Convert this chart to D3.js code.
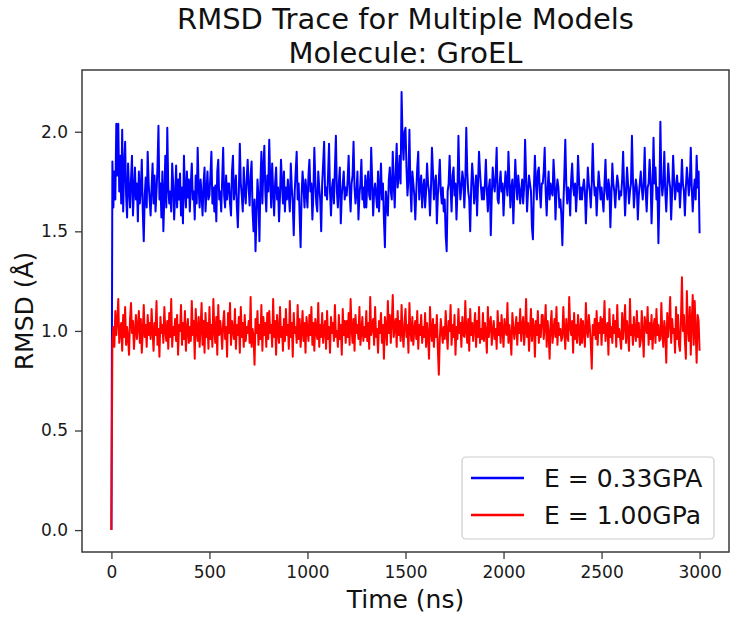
<!DOCTYPE html>
<html>
<head>
<meta charset="utf-8">
<script src="https://cdn.jsdelivr.net/npm/d3@7/dist/d3.min.js"></script>
<style>
  body { margin: 0; background: #fff; }
  svg { display: block; font-family: "DejaVu Sans", sans-serif; }
</style>
</head>
<body>
<svg id="chart" width="733" height="617"></svg>
<script>
// ---- Data (RMSD in Å, sampled every 5 ns from 0 to 3000 ns) ----
const titleLines = ["RMSD Trace for Multiple Models", "Molecule: GroEL"];
const xLabel = "Time (ns)";
const yLabel = "RMSD (Å)";
const timeStep = 5;
const xTicks = [0, 500, 1000, 1500, 2000, 2500, 3000];
const yTicks = [0.0, 0.5, 1.0, 1.5, 2.0];
const seriesNames = ["E = 0.33GPA", "E = 1.00GPa"];
const seriesColors = ["#0000ff", "#ff0000"];

const rmsdSoft = [
  0.00,1.85,1.62,1.80,1.66,2.04,1.78,2.04,1.70,1.88,1.64,2.01,1.60,1.82,1.95,1.68,1.57,1.84,1.72,1.62,
  1.76,1.88,1.58,1.70,1.82,1.66,1.74,1.55,1.80,1.64,1.71,1.86,1.60,1.45,1.68,1.77,1.62,1.90,1.74,1.66,
  1.58,1.72,1.84,1.64,1.78,1.60,1.70,1.82,2.03,1.66,1.74,1.57,1.80,1.50,1.68,1.88,1.62,2.02,1.72,1.64,
  1.70,1.60,1.84,1.74,1.56,1.68,1.83,1.62,1.76,1.66,1.79,1.58,1.72,1.54,1.88,1.70,1.62,1.80,1.67,1.76,
  1.60,1.74,1.84,1.66,1.70,1.56,1.78,1.64,1.92,1.72,1.62,1.76,1.68,1.58,1.74,1.82,1.60,1.70,1.80,1.66,
  1.68,1.78,1.90,1.64,1.72,1.60,1.73,1.55,1.80,1.86,1.66,1.70,1.60,1.76,1.92,1.68,1.62,1.78,1.66,1.74,
  1.74,1.64,1.58,1.80,1.88,1.66,1.72,1.78,1.62,1.52,1.70,1.94,1.74,1.68,1.60,1.82,1.70,1.64,1.76,1.86,
  1.72,1.63,1.78,1.85,1.60,1.50,1.66,1.40,1.58,1.76,1.68,1.45,1.74,1.90,1.64,1.82,1.93,1.70,1.60,1.78,
  1.70,1.96,1.76,1.62,1.84,1.70,1.58,1.74,1.82,1.66,1.72,1.55,1.68,1.86,1.74,1.64,1.80,1.60,1.72,1.66,
  1.76,1.68,1.60,1.84,1.72,1.64,1.48,1.70,1.80,1.90,1.66,1.74,1.58,1.42,1.68,1.80,1.72,1.62,1.76,1.70,
  1.62,1.78,1.86,1.70,1.74,1.56,1.68,1.92,1.76,1.64,1.60,1.80,1.72,1.66,1.50,1.74,1.84,1.95,1.68,1.72,
  1.66,1.78,1.94,1.70,1.58,1.72,1.76,1.64,1.82,1.98,1.70,1.62,1.74,1.82,1.54,1.68,1.74,1.80,1.66,1.72,
  1.68,1.76,1.88,1.70,1.60,1.74,1.78,1.95,1.72,1.64,1.70,1.80,1.56,1.68,1.74,1.86,1.66,1.72,1.62,1.78,
  1.62,1.74,1.80,1.68,1.66,1.92,1.76,1.58,1.70,1.74,1.68,1.62,1.80,1.60,1.72,1.84,1.66,1.74,1.56,1.42,
  1.70,1.64,1.58,1.76,1.82,1.70,1.66,1.90,1.74,1.62,1.80,1.94,1.72,1.78,1.88,1.74,2.20,1.96,1.86,2.00,
  2.02,1.82,1.68,1.76,2.01,1.72,1.60,1.80,1.74,1.68,1.56,1.70,1.82,1.90,1.66,1.74,1.78,1.62,1.72,1.76,
  1.62,1.70,1.84,1.74,1.70,1.58,1.72,1.92,1.80,1.66,1.74,1.78,1.54,1.68,1.76,1.86,1.70,1.64,1.72,1.60,
  1.66,1.48,1.40,1.70,1.74,1.88,1.72,1.60,1.78,1.82,1.68,1.74,1.56,1.70,1.98,1.76,1.66,1.72,1.80,1.76,
  1.62,1.74,2.02,1.80,1.70,1.66,1.50,1.72,1.84,1.76,1.64,1.70,1.78,1.58,1.74,1.90,1.80,1.72,1.66,1.72,
  1.66,1.74,1.86,1.70,1.60,1.72,1.76,1.48,1.68,1.82,1.74,1.70,1.78,1.92,1.66,1.64,1.74,1.80,1.70,1.74,
  1.58,1.70,1.80,1.74,1.68,1.90,1.76,1.62,1.72,1.76,1.54,1.70,1.86,1.74,1.66,1.78,1.72,1.64,1.70,1.76,
  1.64,1.72,1.96,1.78,1.60,1.70,1.78,1.74,1.70,1.52,1.46,1.72,1.88,1.74,1.66,1.80,1.82,1.70,1.62,1.74,
  1.74,1.80,1.92,1.70,1.58,1.72,1.80,1.66,1.74,1.70,1.68,1.86,1.76,1.56,1.70,1.76,1.72,1.62,1.66,1.58,
  1.43,1.62,1.78,1.96,1.74,1.64,1.72,1.70,1.58,1.76,1.84,1.72,1.68,1.74,1.60,1.70,1.88,1.76,1.66,1.72,
  1.66,1.72,1.76,1.70,1.54,1.68,1.82,1.74,1.70,1.62,1.74,1.94,1.76,1.68,1.72,1.58,1.70,1.80,1.74,1.66,
  1.72,1.66,1.60,1.74,1.86,1.70,1.66,1.76,1.72,1.52,1.68,1.84,1.74,1.70,1.62,1.72,1.78,1.74,1.66,1.70,
  1.68,1.76,1.90,1.72,1.58,1.70,1.82,1.74,1.64,1.70,1.74,1.98,1.76,1.62,1.70,1.76,1.72,1.56,1.68,1.74,
  1.80,1.72,1.66,1.74,1.92,1.70,1.60,1.72,1.74,1.86,1.76,1.54,1.70,1.97,1.74,1.82,1.66,1.72,1.44,1.68,
  2.05,1.76,1.68,1.74,1.90,1.70,1.60,1.72,1.84,1.76,1.72,1.56,1.70,1.88,1.76,1.66,1.72,1.78,1.70,1.74,
  1.62,1.72,1.86,1.74,1.70,1.58,1.72,1.82,1.76,1.68,1.74,1.92,1.72,1.60,1.70,1.76,1.66,1.88,1.72,1.80,
  1.49
];

const rmsdStiff = [
  0.00,0.95,1.02,0.92,1.10,0.98,1.05,1.16,0.94,1.00,1.04,0.90,1.08,0.97,1.12,0.93,1.02,0.96,0.88,1.06,
  1.14,0.99,1.05,0.91,1.00,1.08,0.96,1.02,1.10,0.94,1.06,0.89,1.00,1.13,0.97,1.03,0.92,1.08,0.98,1.04,
  0.96,1.11,1.00,0.90,1.04,0.98,1.15,0.93,1.01,0.87,1.07,0.99,1.03,0.94,1.12,1.00,0.95,1.05,0.91,1.09,
  0.97,1.16,0.92,1.02,0.98,1.06,0.95,1.08,0.88,1.03,1.00,1.13,0.93,1.04,0.96,1.10,0.90,1.01,1.06,0.94,
  1.02,0.95,1.15,0.98,1.05,0.86,1.11,1.00,0.95,1.07,0.92,1.02,1.14,0.93,1.05,0.89,1.09,0.97,1.04,0.91,
  1.12,0.96,1.03,0.92,1.16,1.00,0.94,1.07,0.88,1.13,0.98,1.05,1.00,0.91,1.04,1.10,0.96,1.02,0.87,1.09,
  0.99,1.14,0.93,1.05,1.00,0.96,1.11,0.91,1.03,0.98,1.07,0.89,1.12,0.97,1.04,0.92,1.08,0.95,1.02,0.99,
  1.05,0.94,1.17,0.92,1.01,0.97,0.83,1.06,0.99,1.10,0.93,1.03,0.96,1.13,0.90,1.07,0.98,1.04,0.92,1.09,
  0.96,1.10,0.99,1.03,0.92,1.16,0.97,1.05,0.88,1.08,1.00,0.94,1.12,0.97,1.02,0.90,1.06,0.95,1.11,0.98,
  1.03,0.91,1.15,0.97,1.04,0.87,1.09,0.99,1.02,0.94,1.13,0.96,1.06,0.92,1.00,1.10,0.95,1.04,0.89,1.07,
  1.01,0.95,1.08,0.98,1.12,0.93,1.04,0.90,1.06,1.00,0.96,1.14,0.92,1.03,0.97,1.09,0.94,1.01,1.05,0.91,
  1.10,0.96,1.02,0.89,1.07,0.99,1.04,0.95,1.13,0.97,1.00,0.92,1.08,0.96,1.03,0.88,1.11,0.98,1.05,0.94,
  1.05,0.97,1.09,0.93,1.16,1.01,0.94,1.06,0.90,1.08,0.99,1.03,0.96,1.12,0.93,1.00,1.07,0.95,1.02,0.97,
  1.10,0.95,1.04,0.91,1.17,0.98,1.02,1.06,0.93,1.12,0.97,1.01,0.89,1.05,0.99,1.09,0.94,1.03,0.86,1.07,
  1.02,0.93,1.15,0.99,1.08,0.94,1.04,1.18,0.97,1.02,1.06,0.92,1.10,0.98,1.05,0.95,1.13,0.99,0.92,1.04,
  1.11,0.97,1.03,0.89,1.14,1.00,0.95,1.07,0.93,1.01,1.05,0.96,1.10,0.91,1.03,0.98,1.08,0.94,1.02,0.97,
  1.09,0.92,1.04,0.97,0.86,1.12,1.00,0.95,1.06,0.92,1.03,0.97,1.08,0.91,0.78,0.96,1.06,1.00,0.94,1.02,
  0.96,1.10,0.99,0.91,1.05,1.00,1.13,0.93,1.03,0.97,1.08,0.88,1.02,0.96,1.11,0.99,1.04,0.92,1.07,0.98,
  0.97,1.15,1.00,0.94,1.06,0.90,1.11,0.98,1.04,0.95,1.02,1.09,0.92,1.05,0.97,1.12,0.94,1.01,0.96,1.09,
  0.95,1.04,0.99,0.89,1.12,0.97,1.03,1.07,0.93,1.00,1.05,0.96,1.01,0.91,1.10,0.98,1.04,0.94,1.08,1.00,
  0.92,1.06,1.00,0.98,1.14,0.94,1.03,0.97,0.88,1.09,1.02,0.96,1.01,1.07,0.93,1.04,0.99,1.11,0.95,1.02,
  1.07,0.93,1.00,1.16,0.97,1.04,0.90,1.01,1.11,0.95,1.06,1.02,0.87,1.05,0.98,1.10,0.94,1.03,0.97,1.08,
  1.08,0.96,1.02,1.13,0.92,1.05,0.99,0.86,1.03,1.10,0.94,1.00,1.06,0.97,1.12,0.93,1.04,0.98,1.01,0.95,
  0.97,1.12,1.00,0.91,1.06,0.98,0.95,1.17,1.02,0.98,1.05,0.89,1.09,0.96,1.03,0.94,1.08,1.00,0.93,1.06,
  0.94,1.05,0.99,0.92,1.14,1.00,0.97,1.08,1.02,0.94,0.81,1.03,0.98,1.06,0.96,1.10,0.93,1.04,0.99,1.07,
  0.93,1.06,0.99,1.15,0.95,1.02,1.04,0.88,1.11,0.97,1.02,0.94,1.08,0.99,1.05,0.92,1.13,0.97,1.01,0.96,
  0.91,1.09,0.96,1.03,1.13,0.94,1.05,0.99,0.90,1.16,0.98,1.03,0.93,1.07,1.00,0.95,1.10,0.97,1.04,0.92,
  0.95,1.10,0.99,0.87,1.07,1.02,0.99,1.12,0.93,1.04,0.96,1.08,0.91,1.02,1.06,0.94,1.11,0.98,1.03,0.95,
  0.96,1.14,0.99,0.92,1.05,1.00,0.84,1.09,0.97,1.04,1.17,0.94,1.06,0.99,1.01,0.89,1.12,0.96,1.08,0.93,
  0.90,1.06,1.27,1.00,1.08,0.95,0.86,1.20,1.02,0.95,1.12,0.88,1.05,1.18,0.93,1.15,1.00,0.84,1.08,1.05,
  0.90
];

const seriesValues = [rmsdSoft, rmsdStiff];

// ---- Layout ----
const svg = d3.select("#chart");
const plot = { left: 82, right: 729, top: 70, bottom: 552 };

const x = d3.scaleLinear().domain([-150, 3150]).range([plot.left, plot.right]);
const y = d3.scaleLinear().domain([-0.11, 2.31]).range([plot.bottom, plot.top]);

const axisColor = "#3a3a3a";

// Lines
const line = d3.line()
  .x((d, i) => x(i * timeStep))
  .y(d => y(d));

seriesValues.forEach((vals, k) => {
  svg.append("path")
    .datum(vals)
    .attr("fill", "none")
    .attr("stroke", seriesColors[k])
    .attr("stroke-width", 2)
    .attr("stroke-linejoin", "round")
    .attr("d", line);
});

// Axes
const xAxis = svg.append("g")
  .attr("transform", `translate(0,${plot.bottom})`)
  .call(d3.axisBottom(x).tickValues(xTicks).tickSize(7).tickPadding(7).tickFormat(d3.format("d")));
const yAxis = svg.append("g")
  .attr("transform", `translate(${plot.left},0)`)
  .call(d3.axisLeft(y).tickValues(yTicks).tickSize(7).tickPadding(7).tickFormat(d3.format(".1f")));

[xAxis, yAxis].forEach(g => {
  g.select(".domain").remove();
  g.selectAll(".tick line").attr("stroke", axisColor).attr("stroke-width", 1.3);
  g.selectAll(".tick text").attr("fill", "#1a1a1a").style("font-size", "17px")
    .style("font-family", "'DejaVu Sans', sans-serif");
});

// Frame (spines)
svg.append("rect")
  .attr("x", plot.left).attr("y", plot.top)
  .attr("width", plot.right - plot.left).attr("height", plot.bottom - plot.top)
  .attr("fill", "none").attr("stroke", axisColor).attr("stroke-width", 1.5);

// Title
const cx = (plot.left + plot.right) / 2;
svg.append("text").attr("x", cx).attr("y", 29).attr("text-anchor", "middle")
  .style("font-size", "29px").attr("fill", "#111")
  .text(titleLines[0]);
svg.append("text").attr("x", cx).attr("y", 63).attr("text-anchor", "middle")
  .style("font-size", "29px").attr("fill", "#111")
  .text(titleLines[1]);

// Axis labels
svg.append("text").attr("x", cx).attr("y", 608).attr("text-anchor", "middle")
  .style("font-size", "25px").attr("fill", "#111").text(xLabel);
svg.append("text")
  .attr("transform", `translate(33,${(plot.top + plot.bottom) / 2}) rotate(-90)`)
  .attr("text-anchor", "middle")
  .style("font-size", "25px").attr("fill", "#111").text(yLabel);

// Legend
const lg = svg.append("g");
lg.append("rect").attr("x", 462).attr("y", 457).attr("width", 252).attr("height", 82)
  .attr("rx", 4).attr("fill", "#fff").attr("fill-opacity", 0.85)
  .attr("stroke", "#cccccc").attr("stroke-width", 1.2);
seriesNames.forEach((name, k) => {
  const ly = 478 + k * 37;
  lg.append("line").attr("x1", 471).attr("x2", 524).attr("y1", ly).attr("y2", ly)
    .attr("stroke", seriesColors[k]).attr("stroke-width", 2.5);
  lg.append("text").attr("x", 544).attr("y", ly).attr("dy", "0.36em")
    .style("font-size", "25px").attr("fill", "#111").text(name);
});
</script>
</body>
</html>
